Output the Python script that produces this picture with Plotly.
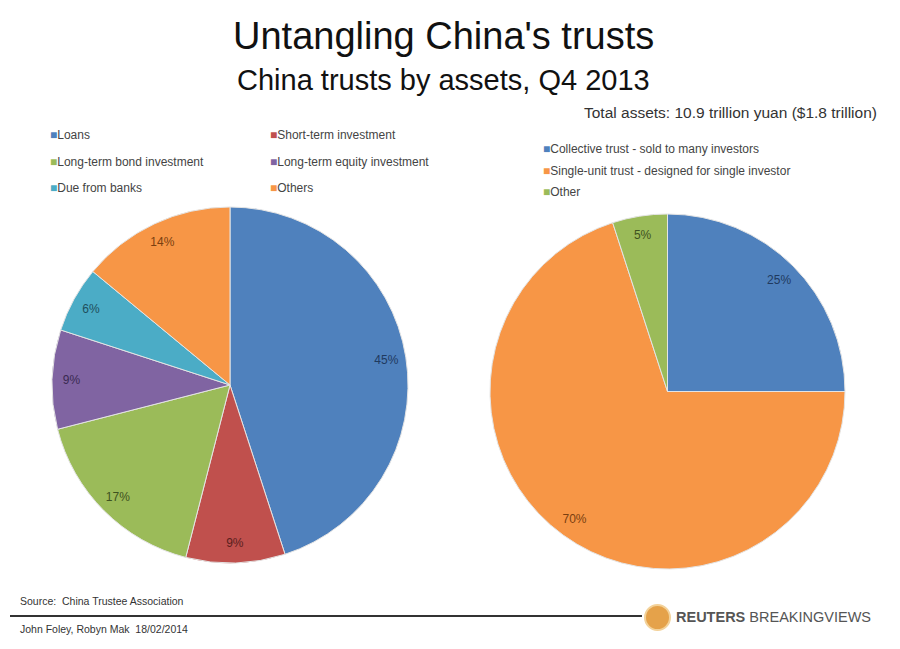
import plotly.graph_objects as go

# ---- data ----
left_labels = ["Loans", "Short-term investment", "Long-term bond investment",
               "Long-term equity investment", "Due from banks", "Others"]
left_values = [45, 9, 17, 9, 6, 14]
left_colors = ["#4F81BD", "#C0504D", "#9BBB59", "#8064A2", "#4BACC6", "#F79646"]
left_text_colors = ["#1F3A5F", "#5A1F1D", "#3F5220", "#3A2A52", "#1F4F5C", "#7A3F10"]

right_labels = ["Collective trust - sold to many investors",
                "Single-unit trust - designed for single investor", "Other"]
right_values = [25, 70, 5]
right_colors = ["#4F81BD", "#F79646", "#9BBB59"]
right_text_colors = ["#1F3A5F", "#7A3F10", "#3F5220"]

title = "Untangling China's trusts"
subtitle = "China trusts by assets, Q4 2013"
total_note = "Total assets: 10.9 trillion yuan ($1.8 trillion)"
source = "Source:  China Trustee Association"
byline = "John Foley, Robyn Mak  18/02/2014"

W, H = 900, 649
FONT = "Liberation Sans, Arial, sans-serif"


def py(px):
    return 1 - px / H


def pxx(px):
    return px / W


left_dom = dict(x=[pxx(52), pxx(408)], y=[py(563), py(207)])
right_dom = dict(x=[pxx(490), pxx(845)], y=[py(569), py(214)])

fig = go.Figure()


def add_pie(labels, values, colors, text_colors, dom):
    # filled slices
    fig.add_trace(go.Pie(
        labels=labels, values=values, sort=False, direction="clockwise", rotation=0,
        marker=dict(colors=colors, line=dict(color="#E4E4E4", width=1)),
        textinfo="none", domain=dom, showlegend=False, hoverinfo="label+percent",
    ))
    # transparent ring carrying the percentage labels near the rim
    fig.add_trace(go.Pie(
        labels=labels, values=values, sort=False, direction="clockwise", rotation=0,
        hole=0.78, marker=dict(colors=["rgba(0,0,0,0)"] * len(values), line=dict(width=0)),
        texttemplate="%{value}%", textposition="inside", insidetextorientation="horizontal",
        textfont=dict(family=FONT, size=12, color=text_colors),
        domain=dom, showlegend=False, hoverinfo="skip",
    ))


add_pie(left_labels, left_values, left_colors, left_text_colors, left_dom)
add_pie(right_labels, right_values, right_colors, right_text_colors, right_dom)

ann = []
ann.append(dict(text=title, x=pxx(443), y=py(36), xref="paper", yref="paper",
                xanchor="center", yanchor="middle", showarrow=False,
                font=dict(family=FONT, size=38, color="#111")))
ann.append(dict(text=subtitle, x=pxx(443), y=py(80), xref="paper", yref="paper",
                xanchor="center", yanchor="middle", showarrow=False,
                font=dict(family=FONT, size=29, color="#111")))
ann.append(dict(text=total_note, x=pxx(879), y=py(112), xref="paper", yref="paper",
                xanchor="right", yanchor="middle", showarrow=False,
                font=dict(family=FONT, size=15.5, color="#333")))


def legend_item(label, color, x, y):
    return dict(text=f"<span style='color:{color}'>■</span>{label}", x=pxx(x), y=py(y),
                xref="paper", yref="paper", xanchor="left", yanchor="middle",
                showarrow=False, font=dict(family=FONT, size=12, color="#444"))


# left legend: two columns, three rows
lx = [48, 268]
ly = [135, 162, 188]
for i, (lab, col) in enumerate(zip(left_labels, left_colors)):
    ann.append(legend_item(lab, col, lx[i % 2], ly[i // 2]))

# right legend: one column
ry = [149, 171, 192]
for i, (lab, col) in enumerate(zip(right_labels, right_colors)):
    ann.append(legend_item(lab, col, 541, ry[i]))

ann.append(dict(text=source, x=pxx(18), y=py(601), xref="paper", yref="paper",
                xanchor="left", yanchor="middle", showarrow=False,
                font=dict(family=FONT, size=10.5, color="#333")))
ann.append(dict(text=byline, x=pxx(18), y=py(629), xref="paper", yref="paper",
                xanchor="left", yanchor="middle", showarrow=False,
                font=dict(family=FONT, size=10.5, color="#333")))
ann.append(dict(text="<b>REUTERS</b> BREAKINGVIEWS", x=pxx(674), y=py(617), xref="paper",
                yref="paper", xanchor="left", yanchor="middle", showarrow=False,
                font=dict(family=FONT, size=14.5, color="#555")))

shapes = [
    dict(type="line", xref="paper", yref="paper", x0=pxx(10), x1=pxx(642),
         y0=py(616), y1=py(616), line=dict(color="#333", width=2)),
    dict(type="circle", xref="paper", yref="paper", x0=pxx(645), x1=pxx(670),
         y0=py(630), y1=py(605), fillcolor="#E5A24A", line=dict(color="#F3D29A", width=2)),
]

fig.update_layout(
    width=W, height=H, margin=dict(l=0, r=0, t=0, b=0),
    paper_bgcolor="white", plot_bgcolor="white",
    annotations=ann, shapes=shapes,
)

fig.write_html("out.html", config={"displayModeBar": False},
               post_script="document.body.style.margin='0';")
